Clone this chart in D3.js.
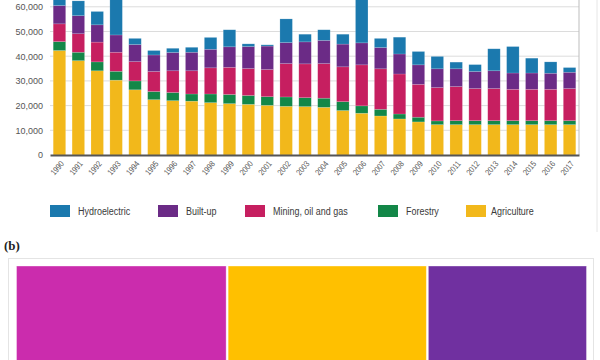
<!DOCTYPE html>
<html><head><meta charset="utf-8">
<script src="https://cdn.jsdelivr.net/npm/d3@7"></script>
<style>html,body{margin:0;padding:0;background:#fff;overflow:hidden}</style>
</head><body>
<svg id="c" width="600" height="360"></svg>
<script>
const years = [1990,1991,1992,1993,1994,1995,1996,1997,1998,1999,2000,2001,2002,2003,2004,2005,2006,2007,2008,2009,2010,2011,2012,2013,2014,2015,2016,2017];
const agriculture = [42300,38200,34100,30300,26400,22400,22000,21800,21200,20800,20500,20100,19700,19600,19300,18000,16900,15800,14600,13400,12300,12300,12300,12300,12300,12300,12300,12300];
const forestry    = [3600,3400,3600,3600,3600,3300,3300,2900,3500,3700,3600,3500,3800,3600,3700,3600,3000,2700,2000,1900,1500,1600,1600,1600,1600,1600,1600,1600];
const mining      = [7200,7500,8000,7700,7800,8100,8800,9400,10600,11000,10900,11000,13500,13700,14000,14100,16600,16400,16200,13300,13500,13800,13000,13000,12700,12700,12700,13000];
const builtUp     = [7400,7300,7000,7000,6900,6700,7400,7500,7500,8300,8900,9500,8500,8900,9400,9200,8900,8600,8100,7900,7600,7200,6900,7200,6600,6600,6500,6600];
const hydro       = [4500,6000,5400,17900,2500,1800,1700,2000,4800,6900,1100,500,9600,3100,4300,4000,20600,3700,6800,5400,5000,2700,2800,8900,10700,6000,4600,1900];
const yTicks = [0,10000,20000,30000,40000,50000,60000];
const gridTicks = [10000,20000,30000,40000,50000,60000,70000];
const seriesKeys = ["agriculture","forestry","mining","builtUp","hydro"];
const seriesLabels = {hydro:"Hydroelectric", builtUp:"Built-up", mining:"Mining, oil and gas", forestry:"Forestry", agriculture:"Agriculture"};
const legendOrder = ["hydro","builtUp","mining","forestry","agriculture"];
const colors = {hydro:"#1b79ae", builtUp:"#6b2b86", mining:"#c61f60", forestry:"#138748", agriculture:"#f2b81b"};
const treeNames = ["Category 1","Category 2","Category 3"];
const treeValues = [37,35,28];
const treeColors = ["#cb2cad","#ffc000","#7030a0"];

const svg = d3.select("#c");
const sans = "'Liberation Sans',Arial,sans-serif";

const table = years.map((y,i)=>({year:y, agriculture:agriculture[i], forestry:forestry[i], mining:mining[i], builtUp:builtUp[i], hydro:hydro[i]}));
const stack = d3.stack().keys(seriesKeys)(table);

const x = d3.scaleBand().domain(years).range([50,579]).paddingInner(0.34).paddingOuter(0.17);
const y = d3.scaleLinear().domain([0,70000]).range([155,155-70000*0.00247]);

// outer panel border (a)
svg.append("line").attr("x1",597).attr("x2",597).attr("y1",0).attr("y2",232).attr("stroke","#e6e6e6");

// gridlines
svg.append("g").selectAll("line").data(gridTicks).join("line")
  .attr("x1",50).attr("x2",579).attr("y1",d=>y(d)).attr("y2",d=>y(d))
  .attr("stroke","#dcdcdc").attr("stroke-width",1);

// right frame
svg.append("line").attr("x1",579).attr("x2",579).attr("y1",-20).attr("y2",155).attr("stroke","#bdbdbd");

// bars
svg.append("g").selectAll("g").data(stack).join("g")
  .attr("fill",d=>colors[d.key])
  .selectAll("rect").data(d=>d).join("rect")
  .attr("x",d=>x(d.data.year)).attr("width",x.bandwidth())
  .attr("y",d=>y(d[1])).attr("height",d=>y(d[0])-y(d[1]))
  .attr("stroke","rgba(255,255,255,0.25)").attr("stroke-width",0.6);

// y axis
const ya = svg.append("g").attr("transform","translate(50,0)")
  .call(d3.axisLeft(y).tickValues(yTicks).tickFormat(d3.format(",")).tickSize(0).tickPadding(7));
ya.select(".domain").remove();
ya.selectAll("text").attr("font-family",sans).attr("font-size",9).attr("fill","#555");

// x axis
const xa = svg.append("g").attr("transform","translate(0,155)")
  .call(d3.axisBottom(x).tickSize(0).tickPadding(0));
xa.select(".domain").attr("stroke","#555").attr("stroke-width",2);
xa.selectAll("text")
  .attr("font-family",sans).attr("font-size",8.5).attr("fill","#555")
  .attr("text-anchor","end").attr("dy",0).attr("y",0)
  .attr("transform","translate(5,9) rotate(-50) scale(0.82,1)");

// legend
const legX = {hydro:50, builtUp:158, mining:245, forestry:378, agriculture:466};
const lg = svg.append("g").selectAll("g").data(legendOrder).join("g")
  .attr("transform",d=>`translate(${legX[d]},205)`);
lg.append("rect").attr("width",20).attr("height",12).attr("fill",d=>colors[d]);
lg.append("text").attr("transform",d=>`translate(${d==="agriculture"?25:28},10) scale(0.78,1)`)
  .attr("font-family",sans).attr("font-size",11.5).attr("fill","#3a3a3a")
  .text(d=>seriesLabels[d]);

// panel (b)
svg.append("text").attr("x",4).attr("y",250).attr("font-family","'Liberation Serif','Times New Roman',serif")
  .attr("font-size",13).attr("font-weight","bold").attr("fill","#222").text("(b)");
svg.append("rect").attr("x",8.5).attr("y",258.5).attr("width",585).attr("height",140)
  .attr("fill","#fff").attr("stroke","#e4e4e4");

const root = d3.hierarchy({children:treeNames.map((n,i)=>({name:n,value:treeValues[i],color:treeColors[i]}))})
  .sum(d=>d.value||0);
d3.treemap().tile(d3.treemapDice).size([570,140]).paddingInner(2)(root);
svg.append("g").attr("transform","translate(16.5,266)")
  .selectAll("rect").data(root.leaves()).join("rect")
  .attr("x",d=>d.x0).attr("y",d=>d.y0).attr("width",d=>d.x1-d.x0).attr("height",d=>d.y1-d.y0)
  .attr("fill",d=>d.data.color).attr("stroke","rgba(255,255,255,0.45)").attr("stroke-width",0.8);
</script>
</body></html>
